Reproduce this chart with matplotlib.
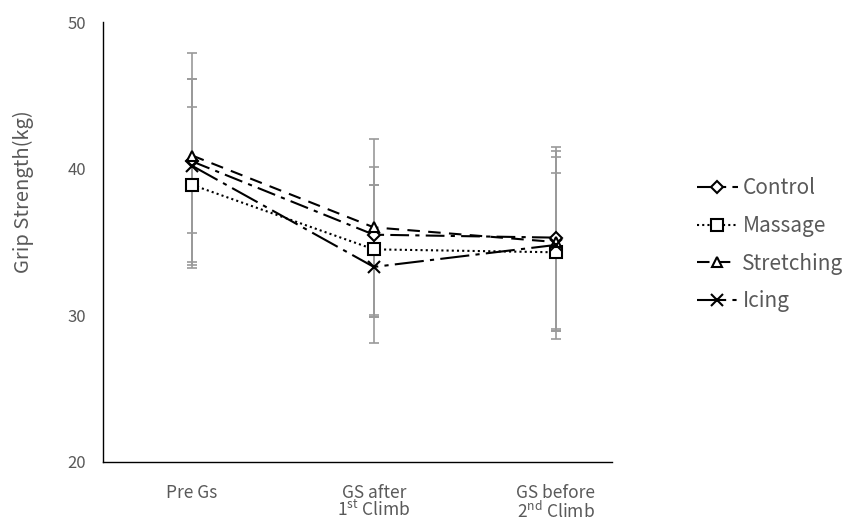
import matplotlib
matplotlib.use("Agg")
import matplotlib.pyplot as plt
import numpy as np

plt.rcParams['font.family'] = ['Noto Sans CJK KR', 'DejaVu Sans']
plt.rcParams['mathtext.fontset'] = 'custom'
plt.rcParams['mathtext.rm'] = 'Noto Sans CJK KR'
plt.rcParams['mathtext.it'] = 'Noto Sans CJK KR'

categories = ["Pre Gs", "GS after\n1$\\mathrm{^{st}}$ Climb", "GS before\n2$\\mathrm{^{nd}}$ Climb"]
series = ["Control", "Massage", "Stretching", "Icing"]

control = [40.5, 35.5, 35.3]
massage = [38.9, 34.5, 34.3]
stretching = [40.9, 36.0, 35.0]
icing = [40.2, 33.3, 34.8]

control_up = [46.1, 40.1, 41.2]
control_lo = [35.6, 29.9, 29.1]
massage_up = [44.2, 38.9, 39.7]
massage_lo = [33.2, 29.9, 28.9]
stretching_up = [47.9, 42.0, 41.5]
stretching_lo = [33.65, 30.0, 28.4]
icing_up = [46.1, 38.9, 40.8]
icing_lo = [33.4, 28.1, 28.9]

data = {
    "Control": (control, control_up, control_lo),
    "Massage": (massage, massage_up, massage_lo),
    "Stretching": (stretching, stretching_up, stretching_lo),
    "Icing": (icing, icing_up, icing_lo),
}
styles = {
    "Control": dict(ls=(0, (9, 3, 2, 3)), marker="D", ms=6.5, mfc="white"),
    "Massage": dict(ls=(0, (1, 1.5)), marker="s", ms=9, mfc="white"),
    "Stretching": dict(ls=(0, (6, 4)), marker="^", ms=7.5, mfc="white"),
    "Icing": dict(ls=(0, (14, 3, 2, 3)), marker="x", ms=9, mfc="none"),
}

fig = plt.figure(figsize=(8.42, 5.25), dpi=100)
ax = fig.add_axes([0.1223, 0.12, 0.6045, 0.838])
x = np.arange(len(categories))

for name in series:
    m, up, lo = data[name]
    m = np.array(m); up = np.array(up); lo = np.array(lo)
    ax.errorbar(x, m, yerr=[m - lo, up - m], fmt="none", ecolor="#9a9a9a",
                elinewidth=1.2, capsize=3.5, capthick=1.2, zorder=1)

handles = []
for name in series:
    m, up, lo = data[name]
    st = styles[name]
    h, = ax.plot(x, m, color="black", lw=1.5, linestyle=st["ls"], marker=st["marker"],
                 ms=st["ms"], mfc=st["mfc"], mec="black", mew=1.5, label=name, zorder=3)
    handles.append(h)

ax.set_xlim(-0.49, 2.31)
ax.set_ylim(20, 50)
ax.set_yticks([20, 30, 40, 50])
ax.set_xticks(x)
ax.set_xticklabels(categories, fontsize=12.5, color="#595959", linespacing=0.88)
ax.tick_params(axis="y", length=0, labelsize=12, labelcolor="#595959", pad=12)
ax.tick_params(axis="x", length=0, pad=16)
for s in ["top", "right"]:
    ax.spines[s].set_visible(False)
ax.spines["left"].set_color("black")
ax.spines["bottom"].set_color("black")
ax.spines["left"].set_linewidth(1.0)
ax.spines["bottom"].set_linewidth(1.0)

fig.text(0.028, 1 - 192 / 525, "Grip Strength(kg)", rotation=90, fontsize=14.5,
         color="#595959", ha="center", va="center")

fig.legend(handles=handles, labels=series, loc="upper left",
           bbox_to_anchor=(0.805, 0.698), frameon=False, fontsize=15,
           labelcolor="#595959", handlelength=2.0, handletextpad=0.2,
           labelspacing=0.75)

fig.savefig("out.png", dpi=100)
